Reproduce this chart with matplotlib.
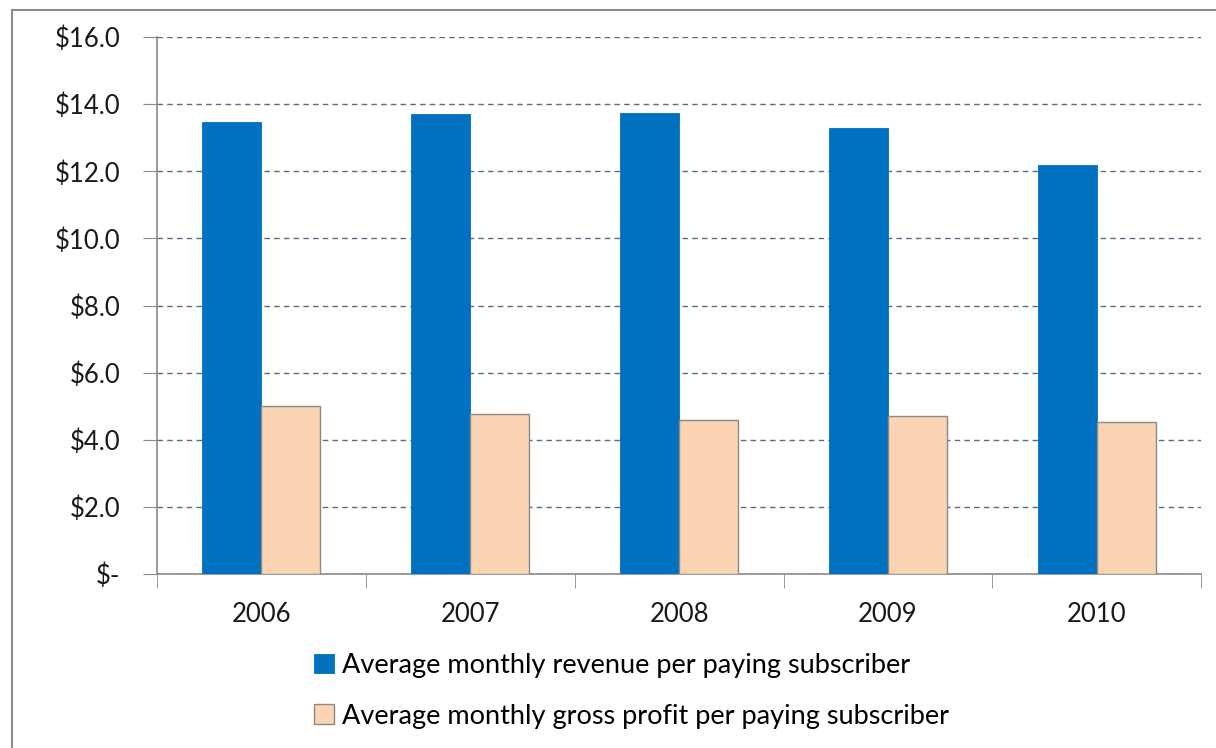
import numpy as np
import matplotlib
matplotlib.use("Agg")
import matplotlib.pyplot as plt
from matplotlib.patches import Rectangle
from matplotlib.ticker import FuncFormatter

years = ["2006", "2007", "2008", "2009", "2010"]
revenue = [13.48, 13.70, 13.75, 13.30, 12.20]
gross_profit = [5.00, 4.76, 4.58, 4.70, 4.52]
labels = ["Average monthly revenue per paying subscriber",
          "Average monthly gross profit per paying subscriber"]

BLUE, PEACH, GRID = "#0070C0", "#FBD4B4", "#5a6f86"
plt.rcParams["font.family"] = ["Lato", "DejaVu Sans"]

fig = plt.figure(figsize=(12.16, 7.48), dpi=100)
ax = fig.add_axes([0.129, 0.2326, 0.859, 0.7179])

# outer chart frame (only top/left edges visible in the crop)
fig.patches.append(Rectangle((12 / 1216, -0.1), 1.2, (748 - 10) / 748 + 0.1,
                             transform=fig.transFigure, fill=False,
                             edgecolor="#8c8c8c", lw=1.5))

x = np.arange(len(years))
w = 0.283
b1 = ax.bar(x - w / 2, revenue, w, color=BLUE, edgecolor=BLUE, lw=0.6, label=labels[0], zorder=3)
b2 = ax.bar(x + w / 2, gross_profit, w, color=PEACH, edgecolor="#8a8a8a", lw=1.0, label=labels[1], zorder=3)

ax.set_xlim(-0.5, len(years) - 0.5)
ax.set_ylim(0, 16)
ax.set_yticks(np.arange(0, 17, 2))
ax.yaxis.set_major_formatter(FuncFormatter(lambda v, p: "$-" if v == 0 else f"${v:.1f}"))
ax.yaxis.grid(True, ls=(0, (4, 3)), color=GRID, lw=1.0, zorder=0)

ax.set_xticks(x)
ax.set_xticklabels(years)
ax.set_xticks(np.arange(-0.5, len(years)), minor=True)
ax.tick_params(axis="x", which="major", length=0, pad=20, labelsize=18.5, colors="#1a1a1a")
ax.tick_params(axis="x", which="minor", length=10, color="#8a8a8a", direction="out")
ax.tick_params(axis="y", length=10, color="#8a8a8a", pad=16, labelsize=18.5, labelcolor="#1a1a1a")

for s in ["top", "right"]:
    ax.spines[s].set_visible(False)
for s in ["left", "bottom"]:
    ax.spines[s].set_color("#8a8a8a")
    ax.spines[s].set_linewidth(1.2)

fig.legend(handles=[b1, b2], labels=labels, loc="upper left",
           bbox_to_anchor=(314 / 1216, 1 - 653 / 748), frameon=False,
           borderpad=0, borderaxespad=0,
           fontsize=19.5, handlelength=0.75, handleheight=0.75, handletextpad=0.3,
           labelspacing=0.95)

fig.savefig("out.png", dpi=100)
